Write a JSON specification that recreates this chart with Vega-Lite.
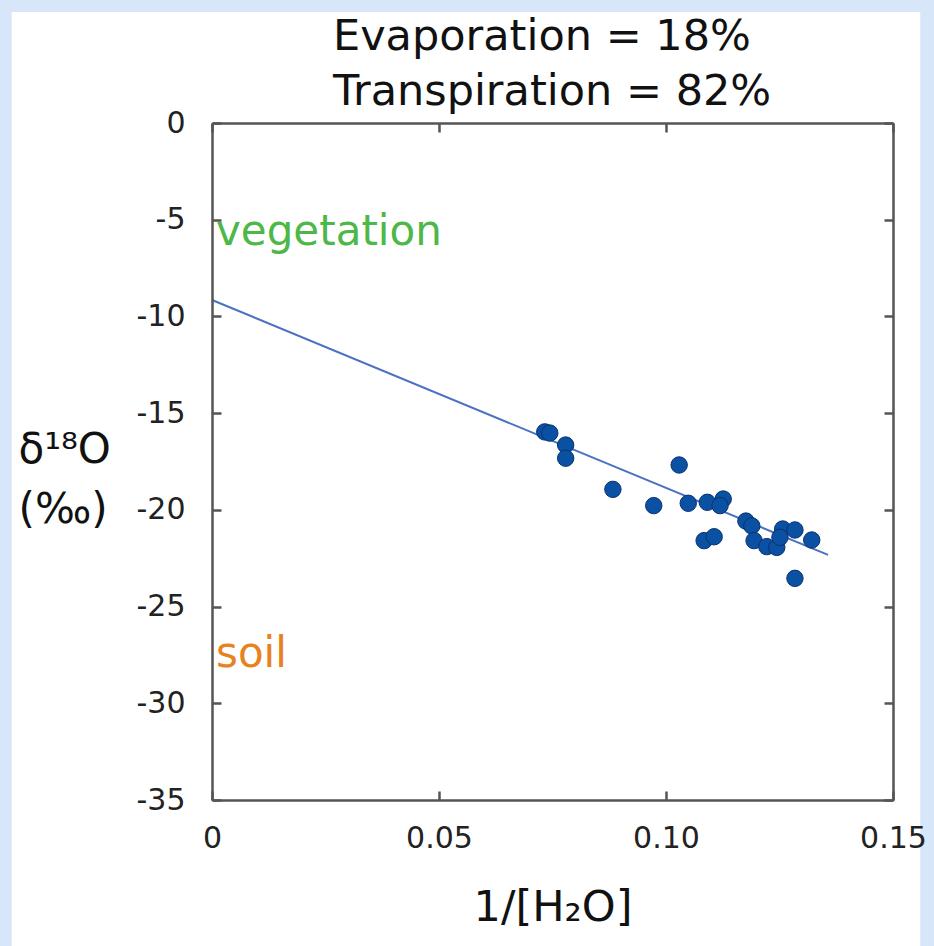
{
  "$schema": "https://vega.github.io/schema/vega-lite/v6.json",
  "width": 681,
  "height": 677,
  "autosize": {"type": "none"},
  "padding": {"left": 212, "top": 123, "right": 41, "bottom": 146},
  "background": "#d7e7f9",
  "config": {"font": "DejaVu Sans", "view": {"stroke": null}},
  "title": {
    "text": ["Evaporation = 18%", "Transpiration = 82%"],
    "frame": "group",
    "anchor": "start",
    "align": "left",
    "baseline": "top",
    "dx": 121,
    "dy": 114,
    "fontSize": 43,
    "fontWeight": "normal",
    "color": "#111111",
    "lineHeight": 55,
    "offset": 12,
    "zindex": 1
  },
  "datasets": {
    "samples": [
      {"inv_h2o": 0.0733, "d18o": -15.97},
      {"inv_h2o": 0.0744, "d18o": -16.03},
      {"inv_h2o": 0.0779, "d18o": -16.65},
      {"inv_h2o": 0.0779, "d18o": -17.33},
      {"inv_h2o": 0.1029, "d18o": -17.68},
      {"inv_h2o": 0.0883, "d18o": -18.94},
      {"inv_h2o": 0.0973, "d18o": -19.78},
      {"inv_h2o": 0.1049, "d18o": -19.66},
      {"inv_h2o": 0.1091, "d18o": -19.61},
      {"inv_h2o": 0.1126, "d18o": -19.44},
      {"inv_h2o": 0.1119, "d18o": -19.78},
      {"inv_h2o": 0.1176, "d18o": -20.58},
      {"inv_h2o": 0.1189, "d18o": -20.83},
      {"inv_h2o": 0.1084, "d18o": -21.59},
      {"inv_h2o": 0.1106, "d18o": -21.39},
      {"inv_h2o": 0.1194, "d18o": -21.59},
      {"inv_h2o": 0.1222, "d18o": -21.90},
      {"inv_h2o": 0.1244, "d18o": -21.94},
      {"inv_h2o": 0.1257, "d18o": -20.99},
      {"inv_h2o": 0.1251, "d18o": -21.42},
      {"inv_h2o": 0.1284, "d18o": -21.04},
      {"inv_h2o": 0.1321, "d18o": -21.56},
      {"inv_h2o": 0.1284, "d18o": -23.54}
    ],
    "fit": [
      {"inv_h2o": 0, "d18o": -9.15},
      {"inv_h2o": 0.1357, "d18o": -22.33}
    ],
    "labels": [
      {"label": "vegetation", "inv_h2o": 0, "d18o": -6.31},
      {"label": "soil", "inv_h2o": 0, "d18o": -28.12}
    ]
  },
  "layer": [
    {
      "data": {"values": [{}]},
      "mark": {"type": "rect", "color": "white", "clip": false},
      "encoding": {
        "x": {"datum": -0.0441, "type": "quantitative", "scale": {"domain": [0, 0.15], "nice": false, "zero": false}, "axis": null},
        "x2": {"datum": 0.156},
        "y": {"datum": 5.74, "type": "quantitative", "scale": {"domain": [-35, 0], "nice": false, "zero": false}, "axis": null},
        "y2": {"datum": -45}
      }
    },
    {
      "data": {"name": "fit"},
      "mark": {"type": "line", "color": "#4a72c2", "strokeWidth": 2},
      "encoding": {
        "x": {
          "field": "inv_h2o", "type": "quantitative",
          "axis": {
            "orient": "bottom", "values": [0, 0.05, 0.1, 0.15],
            "labelExpr": "datum.value == 0 ? '0' : format(datum.value, '.2f')",
            "labelFlush": false, "labelOverlap": false,
            "tickSize": -9, "tickColor": "#555555", "tickWidth": 2.5,
            "domainColor": "#555555", "domainWidth": 2.5,
            "labelFontSize": 30, "labelColor": "#222222",
            "labelPadding": 56, "labelBaseline": "alphabetic",
            "title": "1/[H₂O]", "titleFontSize": 43, "titleFontWeight": "normal",
            "titleColor": "#111111", "titleBaseline": "alphabetic", "titleY": 120,
            "grid": false, "zindex": 1
          }
        },
        "y": {
          "field": "d18o", "type": "quantitative",
          "axis": {
            "orient": "left", "values": [-35, -30, -25, -20, -15, -10, -5, 0],
            "labelExpr": "'' + datum.value",
            "labelOverlap": false, "labelFlush": false,
            "tickSize": -9, "tickColor": "#555555", "tickWidth": 2.5,
            "domainColor": "#555555", "domainWidth": 2.5,
            "labelFontSize": 30, "labelColor": "#222222",
            "labelPadding": 36,
            "title": ["δ¹⁸O", "(‰)"], "titleAngle": 0, "titleAlign": "left",
            "titleX": -194, "titleY": 339, "titleBaseline": "alphabetic",
            "titleFontSize": 42, "titleFontWeight": "normal", "titleColor": "#111111",
            "titleLineHeight": 60,
            "grid": false, "zindex": 1
          }
        }
      }
    },
    {
      "data": {"name": "samples"},
      "mark": {"type": "point", "filled": true, "shape": "circle", "size": 270, "color": "#0a50a3", "stroke": "#0b326e", "strokeWidth": 1, "opacity": 1},
      "encoding": {
        "x": {
          "field": "inv_h2o", "type": "quantitative",
          "axis": {
            "orient": "top", "values": [0, 0.05, 0.1, 0.15], "labels": false,
            "tickSize": -9, "tickColor": "#555555", "tickWidth": 2.5,
            "domainColor": "#555555", "domainWidth": 2.5,
            "title": null, "grid": false, "zindex": 1
          }
        },
        "y": {
          "field": "d18o", "type": "quantitative",
          "axis": {
            "orient": "right", "values": [-35, -30, -25, -20, -15, -10, -5, 0], "labels": false,
            "tickSize": -9, "tickColor": "#555555", "tickWidth": 2.5,
            "domainColor": "#555555", "domainWidth": 2.5,
            "title": null, "grid": false, "zindex": 1
          }
        }
      }
    },
    {
      "data": {"name": "labels"},
      "mark": {"type": "text", "align": "left", "baseline": "alphabetic", "dx": 4, "fontSize": 42},
      "encoding": {
        "x": {"field": "inv_h2o", "type": "quantitative", "axis": null},
        "y": {"field": "d18o", "type": "quantitative", "axis": null},
        "text": {"field": "label"},
        "color": {"field": "label", "type": "nominal", "scale": {"domain": ["vegetation", "soil"], "range": ["#4db848", "#e8821e"]}, "legend": null}
      }
    }
  ],
  "resolve": {"axis": {"x": "independent", "y": "independent"}}
}
